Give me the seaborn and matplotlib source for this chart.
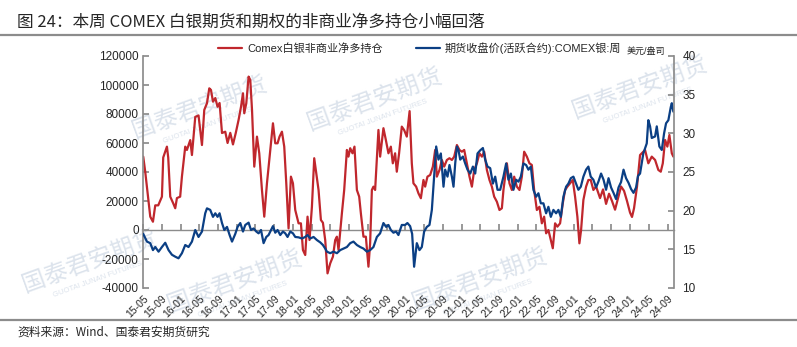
import numpy as np
import pandas as pd
import matplotlib
matplotlib.use("Agg")
import matplotlib.pyplot as plt
from matplotlib.lines import Line2D
import seaborn as sns

# ---- data (time as decimal year) ----
red_t = [2015.333, 2015.369, 2015.405, 2015.458, 2015.506, 2015.547, 2015.600, 2015.666, 2015.689, 2015.755,
         2015.778, 2015.814, 2015.867, 2015.903, 2015.933, 2015.991, 2016.022, 2016.081, 2016.111, 2016.170,
         2016.200, 2016.259, 2016.317, 2016.378, 2016.419, 2016.467, 2016.508, 2016.538, 2016.574, 2016.615,
         2016.655, 2016.691, 2016.734, 2016.792, 2016.833, 2016.881, 2016.929, 2016.979, 2017.029, 2017.072,
         2017.107, 2017.130, 2017.166, 2017.207, 2017.237, 2017.268, 2017.308, 2017.356, 2017.397, 2017.445,
         2017.486, 2017.534, 2017.593, 2017.641, 2017.682, 2017.723, 2017.758, 2017.801, 2017.842, 2017.878,
         2017.919, 2017.961, 2017.997, 2018.038, 2018.097, 2018.139, 2018.175, 2018.216, 2018.257, 2018.292,
         2018.335, 2018.376, 2018.412, 2018.453, 2018.495, 2018.531, 2018.572, 2018.613, 2018.661, 2018.709,
         2018.750, 2018.780, 2018.809, 2018.869, 2018.910, 2018.958, 2018.986, 2019.017, 2019.058, 2019.093,
         2019.136, 2019.177, 2019.207, 2019.253, 2019.296, 2019.342, 2019.372, 2019.403, 2019.431, 2019.461,
         2019.520, 2019.550, 2019.609, 2019.652, 2019.698, 2019.741, 2019.776, 2019.817, 2019.847, 2019.888,
         2019.936, 2019.977, 2020.025, 2020.075, 2020.114, 2020.143, 2020.191, 2020.232, 2020.275, 2020.321,
         2020.351, 2020.392, 2020.440, 2020.488, 2020.529, 2020.559, 2020.606, 2020.648, 2020.689, 2020.737,
         2020.783, 2020.826, 2020.867, 2020.915, 2020.961, 2021.004, 2021.045, 2021.093, 2021.139, 2021.182,
         2021.223, 2021.271, 2021.317, 2021.360, 2021.401, 2021.449, 2021.495, 2021.538, 2021.579, 2021.627,
         2021.673, 2021.716, 2021.744, 2021.775, 2021.805, 2021.851, 2021.894, 2021.935, 2021.983, 2022.029,
         2022.072, 2022.113, 2022.161, 2022.207, 2022.250, 2022.291, 2022.339, 2022.385, 2022.428, 2022.469,
         2022.504, 2022.545, 2022.588, 2022.623, 2022.664, 2022.705, 2022.753, 2022.801, 2022.842, 2022.883,
         2022.931, 2022.979, 2023.020, 2023.061, 2023.097, 2023.127, 2023.168, 2023.216, 2023.257, 2023.299,
         2023.346, 2023.394, 2023.465, 2023.518, 2023.572, 2023.625, 2023.678, 2023.732, 2023.785, 2023.839,
         2023.892, 2023.945, 2023.999, 2024.034, 2024.070, 2024.123, 2024.177, 2024.266, 2024.324, 2024.385,
         2024.444, 2024.502, 2024.545, 2024.581, 2024.622, 2024.662, 2024.698, 2024.741, 2024.769]
red_v = [50600, 40000, 27600, 9200, 5700, 17000, 17000, 23000, 50000, 57500,
         50000, 23000, 18400, 15000, 22000, 23000, 36800, 57500, 55200, 62000,
         51700, 78000, 79000, 58600, 82800, 87400, 97700, 96600, 88500, 91000,
         85000, 87600, 66900, 67800, 60000, 67000, 59000, 67000, 76000, 85000,
         94300, 80500, 87400, 105800, 103500, 82800, 43700, 64400, 52900, 27600,
         9200, 32200, 55200, 73600, 59800, 59800, 64400, 67800, 57500, 32400,
         1100, 36800, 32200, 13800, 4600, 4600, -13800, -17250, 9200, -6900,
         16000, 49500, 39100, 27600, 6900, 5000, -7000, -29900, -23000, -18400,
         -6900, -4600, -13800, 11500, 27600, 55200, 50600, 56400, 52900, 57500,
         27600, 23000, 11500, -4600, -4600, -25300, -9200, 27600, 29900, 27600,
         69000, 50600, 70200, 62100, 52900, 57500, 46000, 52900, 40200, 52900,
         71300, 69000, 64400, 82000, 46000, 32200, 29900, 25300, 21900, 34500,
         29900, 36800, 37950, 43700, 55200, 36800, 41400, 48300, 43700, 48300,
         49500, 48300, 50600, 58600, 55200, 54000, 55200, 46000, 36800, 29900,
         41400, 46000, 52900, 50600, 54000, 41400, 34500, 29900, 23000, 19500,
         13800, 15000, 27600, 36800, 46000, 32200, 27600, 36800, 29900, 27600,
         36800, 54000, 50600, 46000, 44850, 27600, 13800, 16000, 4600, 9200,
         -2300, 0, -6900, -12600, 4600, 2300, 4600, 18400, 27600, 29900,
         32200, 34500, 23000, 9200, -9200, 0, 20700, 29900, 34500, 34500,
         27600, 30000, 22000, 28000, 18000, 25000, 20000, 14000, 22000, 30000,
         27000, 20000, 12000, 9000, 15000, 30000, 51700, 55200, 46000, 50600,
         48300, 41400, 40200, 46000, 62100, 57500, 65500, 52900, 50600]

blue_t = [2015.333, 2015.399, 2015.458, 2015.506, 2015.547, 2015.606, 2015.666, 2015.725, 2015.784, 2015.844,
          2015.903, 2015.961, 2016.022, 2016.081, 2016.139, 2016.200, 2016.259, 2016.317, 2016.378, 2016.436,
          2016.467, 2016.525, 2016.574, 2016.615, 2016.655, 2016.691, 2016.734, 2016.775, 2016.823, 2016.869,
          2016.912, 2016.970, 2017.011, 2017.059, 2017.107, 2017.148, 2017.207, 2017.250, 2017.296, 2017.344,
          2017.385, 2017.428, 2017.474, 2017.522, 2017.563, 2017.606, 2017.641, 2017.682, 2017.723, 2017.771,
          2017.819, 2017.860, 2017.901, 2017.949, 2017.997, 2018.038, 2018.097, 2018.157, 2018.216, 2018.257,
          2018.305, 2018.364, 2018.424, 2018.483, 2018.531, 2018.572, 2018.602, 2018.661, 2018.719, 2018.780,
          2018.839, 2018.897, 2018.958, 2019.017, 2019.075, 2019.136, 2019.195, 2019.253, 2019.314, 2019.372,
          2019.431, 2019.492, 2019.550, 2019.609, 2019.657, 2019.698, 2019.741, 2019.787, 2019.835, 2019.876,
          2019.936, 2019.995, 2020.036, 2020.084, 2020.120, 2020.155, 2020.203, 2020.250, 2020.292, 2020.333,
          2020.381, 2020.428, 2020.470, 2020.511, 2020.547, 2020.588, 2020.630, 2020.677, 2020.707, 2020.748,
          2020.783, 2020.826, 2020.855, 2020.885, 2020.915, 2020.944, 2020.974, 2021.022, 2021.063, 2021.104,
          2021.152, 2021.200, 2021.241, 2021.282, 2021.330, 2021.378, 2021.419, 2021.460, 2021.508, 2021.556,
          2021.597, 2021.638, 2021.686, 2021.744, 2021.792, 2021.833, 2021.876, 2021.922, 2021.970, 2022.011,
          2022.054, 2022.100, 2022.148, 2022.189, 2022.232, 2022.278, 2022.326, 2022.367, 2022.410, 2022.456,
          2022.504, 2022.545, 2022.588, 2022.634, 2022.682, 2022.723, 2022.766, 2022.812, 2022.860, 2022.901,
          2022.944, 2022.990, 2023.038, 2023.079, 2023.122, 2023.168, 2023.216, 2023.257, 2023.299, 2023.346,
          2023.394, 2023.438, 2023.483, 2023.527, 2023.572, 2023.616, 2023.661, 2023.705, 2023.750, 2023.794,
          2023.839, 2023.883, 2023.928, 2023.972, 2024.017, 2024.061, 2024.106, 2024.141, 2024.177, 2024.235,
          2024.296, 2024.324, 2024.355, 2024.385, 2024.444, 2024.474, 2024.520, 2024.563, 2024.604, 2024.639,
          2024.680, 2024.723, 2024.741, 2024.769]
blue_v = [17.0, 16.0, 15.8, 14.9, 15.3, 14.7, 15.3, 15.85, 14.9, 14.3,
          14.05, 13.84, 14.5, 15.56, 15.3, 16.0, 17.5, 16.6, 17.3, 19.66,
          20.3, 20.1, 19.2, 19.66, 19.2, 19.66, 18.4, 17.5, 17.9, 16.85,
          16.0, 17.0, 17.9, 18.4, 17.3, 18.15, 18.45, 17.5, 17.7, 17.3,
          17.07, 17.5, 15.8, 16.6, 16.85, 17.5, 18.0, 17.15, 17.5, 16.85,
          17.3, 17.07, 16.6, 17.3, 17.07, 16.6, 16.55, 16.4, 16.6, 16.85,
          16.4, 16.6, 16.2, 15.9, 15.56, 15.1, 14.7, 14.5, 14.7, 14.5,
          14.9, 15.1, 15.3, 15.8, 16.0, 15.56, 15.3, 15.1, 14.7, 14.9,
          15.3, 16.6, 17.07, 18.4, 17.9, 18.15, 17.5, 17.15, 17.3, 16.85,
          18.15, 18.15, 18.4, 18.0, 17.0, 12.75, 15.8, 14.9, 15.3, 17.3,
          17.9, 18.15, 20.1, 24.4, 28.3, 26.6, 27.4, 23.1, 25.3, 24.4,
          25.9, 24.4, 23.1, 26.1, 28.3, 27.8, 26.6, 27.0, 26.1, 25.3,
          24.8, 25.7, 24.8, 27.4, 27.8, 28.1, 26.6, 25.7, 25.5, 23.5,
          24.4, 22.7, 22.7, 24.4, 26.1, 24.0, 24.8, 22.7, 24.0, 23.75,
          24.4, 26.1, 25.9, 25.3, 25.7, 22.7, 21.8, 22.25, 20.95, 20.95,
          19.66, 20.5, 19.2, 20.1, 19.66, 20.1, 19.2, 21.8, 23.1, 23.5,
          24.2, 24.4, 23.5, 22.7, 23.1, 24.4, 25.3, 25.7, 24.4, 24.0,
          23.0, 23.8, 24.8, 24.0, 22.7, 24.2, 23.0, 22.3, 21.5, 23.0,
          23.7, 25.3, 24.2, 23.6, 22.8, 22.3, 23.0, 24.5, 24.8, 27.4,
          28.7, 31.7, 30.9, 29.4, 29.6, 30.9, 28.3, 27.85, 30.0, 31.3,
          31.7, 33.4, 33.9, 32.8]

red_label = "Comex白银非商业净多持仓"
blue_label = "期货收盘价(活跃合约):COMEX银:周"
unit_label = "美元/盎司"
title = "图 24：本周 COMEX 白银期货和期权的非商业净多持仓小幅回落"
source = "资料来源：Wind、国泰君安期货研究"
watermark = "国泰君安期货"
watermark_en = "GUOTAI JUNAN FUTURES"
left_ticks = [-40000, -20000, 0, 20000, 40000, 60000, 80000, 100000, 120000]
right_ticks = [10, 15, 20, 25, 30, 35, 40]
x_ticks = pd.date_range("2015-05-01", "2024-09-01", freq="4MS")
x_start, x_end = 2015.333, 2024.78

RED = "#C0272D"
BLUE = "#0B3F84"
GRAY = "#8C8C8C"
WM = "#DCE3EC"


def to_date(t):
    y = int(np.floor(t))
    a = pd.Timestamp(year=y, month=1, day=1)
    b = pd.Timestamp(year=y + 1, month=1, day=1)
    return a + (b - a) * (t - y)


red_df = pd.DataFrame({"date": [to_date(t) for t in red_t], "value": red_v})
blue_df = pd.DataFrame({"date": [to_date(t) for t in blue_t], "value": blue_v})

sns.set_theme(style="white")
plt.rcParams["font.family"] = ["Liberation Sans", "Noto Sans CJK SC", "DejaVu Sans"]

fig = plt.figure(figsize=(7.97, 3.47), dpi=100)

# faint watermarks (behind everything)
for (px, py) in [(200, 108), (375, 100), (640, 88), (90, 262), (235, 282), (480, 280)]:
    fig.text(px / 797, 1 - py / 347, watermark, fontsize=17, color=WM, rotation=20,
             ha="center", va="center", zorder=-5, family=["Noto Sans CJK SC"])
    fig.text((px + 8) / 797, 1 - (py + 17) / 347, watermark_en, fontsize=5.5, color=WM,
             rotation=20, ha="center", va="center", zorder=-5)

ax = fig.add_axes([143 / 797, 59 / 347, 531 / 797, 232 / 347])
ax2 = ax.twinx()

sns.lineplot(data=red_df, x="date", y="value", ax=ax, color=RED, linewidth=1.6, label=red_label, legend=False)
sns.lineplot(data=blue_df, x="date", y="value", ax=ax2, color=BLUE, linewidth=1.6, label=blue_label, legend=False)

ax.set_xlim(to_date(x_start), to_date(x_end))
ax.set_ylim(-40000, 120000)
ax2.set_ylim(10, 40)
ax.set_yticks(left_ticks)
ax.set_yticklabels([str(v) for v in left_ticks])
ax2.set_yticks(right_ticks)
ax.set_xlabel("")
ax.set_ylabel("")
ax2.set_ylabel("")

ax.set_xticks(x_ticks)
ax.set_xticklabels([d.strftime("%y-%m") for d in x_ticks], rotation=45, ha="right",
                   rotation_mode="anchor", fontsize=7.5)
ax.tick_params(axis="x", length=0, pad=4)
ax.tick_params(axis="y", direction="in", length=4, color=GRAY, labelsize=8.5, pad=3, left=True)
ax2.tick_params(axis="y", direction="in", length=4, color=GRAY, labelsize=8.5, pad=6, right=True)

for a in (ax, ax2):
    a.grid(False)
    a.spines["top"].set_visible(False)
    a.spines["bottom"].set_visible(False)
    a.set_facecolor("none")
ax.patch.set_visible(False)
ax.spines["left"].set_color(GRAY)
ax.spines["right"].set_visible(False)
ax2.spines["left"].set_visible(False)
ax2.spines["right"].set_color(GRAY)

# zero line with tick marks
sec = ax.secondary_xaxis(0.25)
sec.set_xticks(x_ticks)
sec.tick_params(axis="x", direction="in", length=4, color=GRAY, labelbottom=False)
sec.spines["bottom"].set_color(GRAY)
sec.spines["bottom"].set_linewidth(1.0)

# legend
handles = [Line2D([], [], color=RED, lw=1.6), Line2D([], [], color=BLUE, lw=1.6)]
fig.legend(handles, [red_label, blue_label], loc="center left", bbox_to_anchor=(208 / 797, 1 - 48 / 347),
           ncol=2, frameon=False, fontsize=8, handlelength=2.2, handletextpad=0.4, columnspacing=3.0)
fig.text(665 / 797, 1 - 51 / 347, unit_label, fontsize=6.5, ha="right", va="center")

# title, rules, source
fig.text(17 / 797, 1 - 22 / 347, title, fontsize=12, va="center",
         family=["Noto Sans CJK SC", "DejaVu Sans"])
fig.add_artist(Line2D([0, 1], [1 - 35 / 347] * 2, transform=fig.transFigure, color=GRAY, lw=1.6))
fig.add_artist(Line2D([0, 1], [1 - 320 / 347] * 2, transform=fig.transFigure, color=GRAY, lw=1.6))
fig.text(17 / 797, 1 - 332 / 347, source, fontsize=8.5, va="center",
         family=["Noto Sans CJK SC", "DejaVu Sans"])

fig.savefig("out.png", dpi=100)
